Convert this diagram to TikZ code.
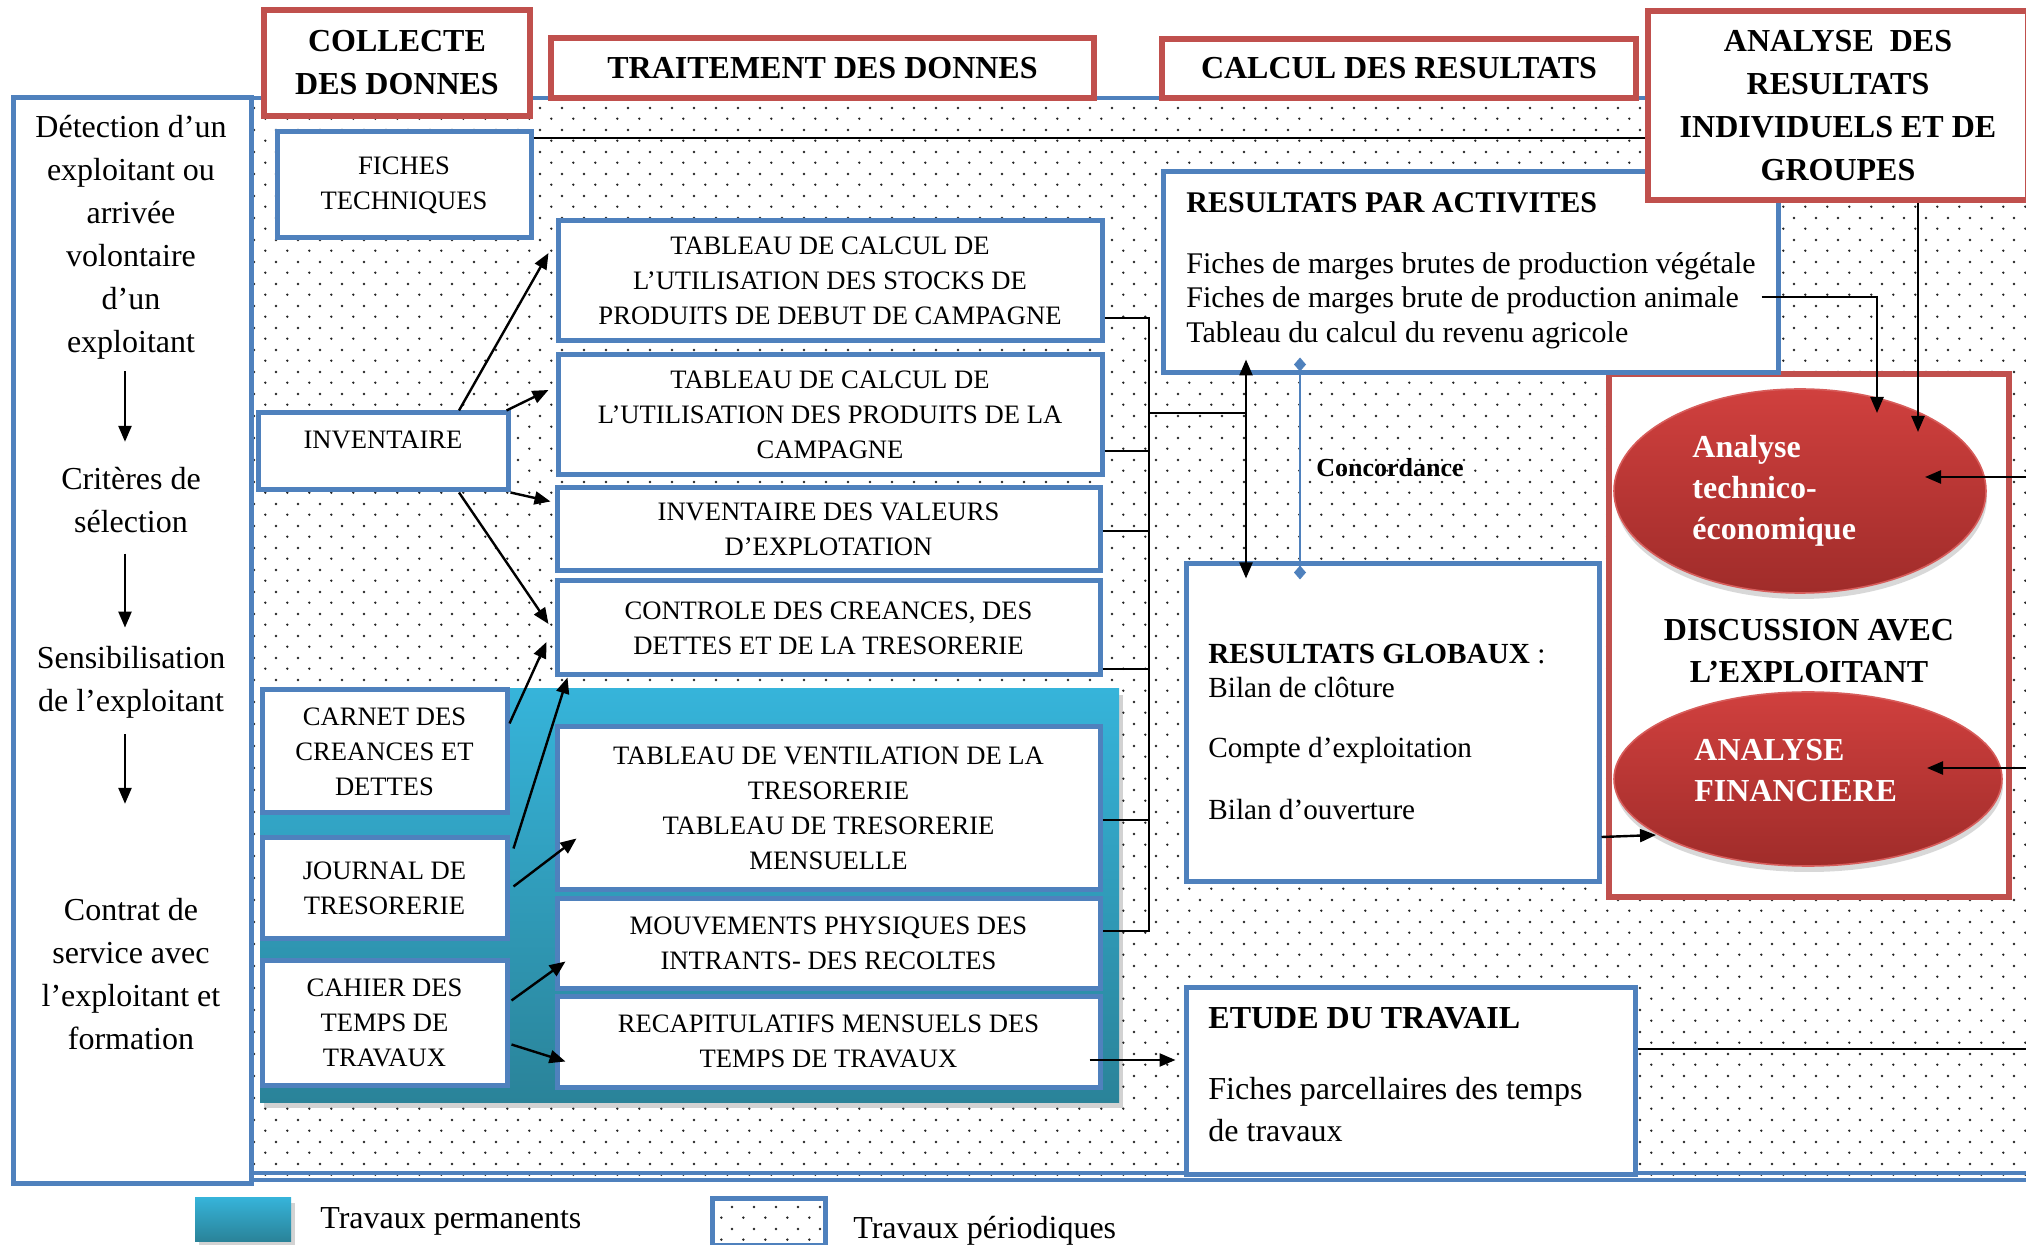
\documentclass[tikz,border=0pt]{standalone}
\usepackage{fontspec}
\setmainfont{Liberation Serif}
\usetikzlibrary{arrows.meta,shapes.geometric,shadows,patterns.meta}
\definecolor{boxblue}{HTML}{4F81BD}
\definecolor{headred}{HTML}{C0504D}
\definecolor{tealtop}{HTML}{36B4DA}
\definecolor{tealbot}{HTML}{2A8399}
\definecolor{ellred}{HTML}{D0403E}
\definecolor{elldark}{HTML}{A02C2A}
\tikzdeclarepattern{
  name=ptdots, type=uncolored,
  bounding box={(0pt,0pt) and (10.85pt,10.85pt)},
  tile size={(10.85pt,10.85pt)},
  code={\fill (2.7pt,2.7pt) circle (0.68pt);
        \fill (8.12pt,8.12pt) circle (0.68pt);}}

\begin{document}
\begin{tikzpicture}[x=0.5pt,y=-0.5pt,
    bluebox/.style={draw=boxblue, line width=2.5pt, fill=white, inner sep=2pt,
      align=center, font=\fontsize{13.3}{17.5}\selectfont},
    redhead/.style={draw=headred, line width=3pt, fill=white, inner sep=2pt,
      align=center, font=\bfseries\fontsize{16}{21.5}\selectfont},
    lefttxt/.style={inner sep=0pt, align=center, font=\fontsize{16}{21.5}\selectfont},
    restxt/.style={inner sep=0pt, align=left, font=\fontsize{15}{17.25}\selectfont},
    elltxt/.style={inner sep=0pt, align=left, text=white, font=\bfseries\fontsize{16}{20.5}\selectfont},
    redell/.style={ellipse, inner sep=0pt, top color=ellred, bottom color=elldark,
      draw=ellred!85!white, line width=0.8pt,
      drop shadow={shadow xshift=0.5pt, shadow yshift=-3pt, opacity=0.3}},
    permzone/.style={top color=tealtop, bottom color=tealbot,
      drop shadow={shadow xshift=2pt, shadow yshift=-3pt, opacity=0.35}},
    arr/.style={-{Triangle[length=8pt,width=6.5pt]}, line width=1.2pt},
    dblarr/.style={{Triangle[length=8pt,width=6.5pt]}-{Triangle[length=8pt,width=6.5pt]}, line width=1.2pt},
    concarr/.style={{Diamond[length=7pt,width=6pt]}-{Diamond[length=7pt,width=6pt]}, boxblue, line width=1pt},
    link/.style={line width=1pt}]
\useasboundingbox (0,0) rectangle (2026,1245);
\clip (0,0) rectangle (2026,1245);

% fond : travaux periodiques
\fill[white] (251,98) rectangle (2040,1180);
\fill[pattern=ptdots, pattern color=black!85] (251,98) rectangle (2040,1180);
\draw[boxblue, line width=2pt] (13,98) -- (2040,98);
\draw[boxblue, line width=2pt] (251,1173) -- (2040,1173);
\draw[boxblue, line width=2pt] (251,1180) -- (2040,1180);

% colonne de gauche
\draw[boxblue, line width=2.5pt, fill=white] (13,98) rectangle (251,1183);
\node[lefttxt] (detect) at (131,237) {Détection d’un\\exploitant ou\\arrivée\\volontaire\\d’un\\exploitant};
\node[lefttxt] (crit) at (131,500.5) {Critères de\\sélection};
\node[lefttxt] (sens) at (131,682) {Sensibilisation\\de l’exploitant};
\node[lefttxt] (contrat) at (131,974) {Contrat de\\service avec\\l’exploitant et\\formation};
\draw[arr] ([xshift=-3pt,yshift=-6pt]detect.south) -- ([xshift=-3pt,yshift=12.75pt]crit.north);
\draw[arr] ([xshift=-3pt,yshift=-10pt]crit.south) -- ([xshift=-3pt,yshift=9pt]sens.north);
\draw[arr] ([xshift=-3pt,yshift=-8pt]sens.south) -- ([xshift=-3pt,yshift=47pt]contrat.north);

% zone des travaux permanents
\path[permzone] (260,689) rectangle (1119,1102);

% en-tetes
\node[redhead, minimum width=133pt, minimum height=53pt] (collecte) at (397,63) {COLLECTE\\DES DONNES};
\node[redhead, minimum width=271.5pt, minimum height=30pt] (traitement) at (822.5,68) {TRAITEMENT DES DONNES};
\node[redhead, minimum width=237pt, minimum height=29.5pt] (calcul) at (1399,68.5) {CALCUL DES RESULTATS};

% collecte
\node[bluebox, minimum width=127pt, minimum height=53pt] (fiches) at (404,185) {FICHES\\TECHNIQUES};
\node[bluebox, minimum width=125pt, minimum height=38.5pt, text depth=12pt] (inv) at (383,451.5) {INVENTAIRE};
\node[bluebox, minimum width=122.5pt, minimum height=61.5pt] (carnet) at (384.5,751.5) {CARNET DES\\CREANCES ET\\DETTES};
\node[bluebox, minimum width=122.5pt, minimum height=50.5pt] (journal) at (384.5,888.5) {JOURNAL DE\\TRESORERIE};
\node[bluebox, minimum width=122.5pt, minimum height=62.5pt] (cahier) at (384.5,1022.5) {CAHIER DES\\TEMPS DE\\TRAVAUX};

% traitement
\node[bluebox, minimum width=272pt, minimum height=60pt] (tab1) at (830,281) {TABLEAU DE CALCUL DE\\L’UTILISATION DES STOCKS DE\\PRODUITS DE DEBUT DE CAMPAGNE};
\node[bluebox, minimum width=272pt, minimum height=60pt] (tab2) at (830,415) {TABLEAU DE CALCUL DE\\L’UTILISATION DES PRODUITS DE LA\\CAMPAGNE};
\node[bluebox, minimum width=271.5pt, minimum height=41.5pt, text depth=0pt] (invval) at (828.5,529.5) {INVENTAIRE DES VALEURS\\D’EXPLOTATION};
\node[bluebox, minimum width=271.5pt, minimum height=47pt] (controle) at (828.5,628) {CONTROLE DES CREANCES, DES\\DETTES ET DE LA TRESORERIE};
\node[bluebox, minimum width=271.5pt, minimum height=81.5pt] (vent) at (828.5,808.5) {TABLEAU DE VENTILATION DE LA\\TRESORERIE\\TABLEAU DE TRESORERIE\\MENSUELLE};
\node[bluebox, minimum width=271.5pt, minimum height=44.5pt] (mouv) at (828.5,943.5) {MOUVEMENTS PHYSIQUES DES\\INTRANTS- DES RECOLTES};
\node[bluebox, minimum width=271.5pt, minimum height=45.5pt] (recap) at (828.5,1041.5) {RECAPITULATIFS MENSUELS DES\\TEMPS DE TRAVAUX};

% analyse et discussion
\draw[headred, line width=3pt, fill=white] (1609,374) rectangle (2009,897);
\node[redell, minimum width=186pt, minimum height=102pt] (ana1) at (1800,491) {};
\node[elltxt, anchor=west] (ana1txt) at (1692,491) {Analyse\\technico-\\économique};
\node[inner sep=0pt, align=center, font=\bfseries\fontsize{16}{21}\selectfont] (discuss) at (1809,651) {DISCUSSION AVEC\\L’EXPLOITANT};
\node[redell, minimum width=194pt, minimum height=87pt] (ana2) at (1808,779) {};
\node[elltxt, anchor=west] (ana2txt) at (1694,771) {ANALYSE\\FINANCIERE};

% calcul des resultats
\node[bluebox, minimum width=307.5pt, minimum height=100.5pt] (resact) at (1470.5,272.5) {};
\node[restxt, anchor=north west] (resacttxt) at (1186,192) {\textbf{RESULTATS PAR ACTIVITES}\\[13.25pt]
  Fiches de marges brutes de production végétale\\
  Fiches de marges brute de production animale\\
  Tableau du calcul du revenu agricole};
\node[redhead, minimum width=190pt, minimum height=94.5pt] (anres) at (1838,105.5) {ANALYSE~ DES\\RESULTATS\\INDIVIDUELS ET DE\\GROUPES};
\node[bluebox, minimum width=206.5pt, minimum height=159pt] (resglob) at (1392.5,723) {};
\node[inner sep=0pt, align=left, anchor=north west, font=\fontsize{14.6}{17}\selectfont] (resglobtxt) at (1208,644)
  {\textbf{RESULTATS GLOBAUX} :\\Bilan de clôture\\[13pt]Compte d’exploitation\\[14pt]Bilan d’ouverture};
\node[bluebox, minimum width=224.5pt, minimum height=93.5pt] (etude) at (1410.5,1080.5) {};
\node[inner sep=0pt, align=left, anchor=north west, font=\fontsize{16}{21}\selectfont] (etudetxt) at (1208,1007)
  {\textbf{ETUDE DU TRAVAIL}\\[14.5pt]Fiches parcellaires des temps\\de travaux};
\node[inner sep=0pt, font=\bfseries\fontsize{13}{15}\selectfont] (concord) at (1390,468) {Concordance};

% liaisons
\coordinate (brtop) at (1149,318);
\coordinate (brbot) at (1149,931);
\coordinate (brmid) at (1149,413);
\coordinate (dmid) at (1246,413);
\coordinate (rin1) at (2030,477);
\coordinate (rin2) at (2030,768);
\coordinate (rout) at (2030,1049);
\draw[link] ([yshift=-18.5pt]tab1.east) -- (brtop) -- (brbot) -- ([yshift=6.25pt]mouv.east);
\draw[link] ([yshift=-18pt]tab2.east) -- (brtop |- 0,451);
\draw[link] ([yshift=-0.75pt]invval.east) -- (brtop |- 0,531);
\draw[link] ([yshift=-20.5pt]controle.east) -- (brtop |- 0,669);
\draw[link] ([yshift=-5.75pt]vent.east) -- (brtop |- 0,820);
\draw[link] (brmid) -- (dmid);
\draw[link] ([yshift=23.5pt]fiches.east) -- ([yshift=-16.25pt]anres.west);
\draw[dblarr] ([xshift=-112.25pt,yshift=8pt]resact.south) -- ([xshift=-73.25pt,yshift=-8.5pt]resglob.north);
\draw[concarr] ([xshift=-85.25pt,yshift=9pt]resact.south) -- ([xshift=-46.25pt,yshift=-9pt]resglob.north);

\draw[arr] ([xshift=38pt]inv.north) -- ([xshift=-3.5pt,yshift=14pt]tab1.west);
\draw[arr] ([xshift=-2pt]inv.north east) -- ([xshift=-3.5pt,yshift=12.5pt]tab2.west);
\draw[arr] (inv.south east) -- ([xshift=-2pt,yshift=14pt]invval.west);
\draw[arr] ([xshift=38pt]inv.south) -- ([xshift=-3pt,yshift=2pt]controle.west);
\draw[arr] ([yshift=14pt]carnet.east) -- ([xshift=-4pt,yshift=-7pt]controle.west);
\draw[arr] ([xshift=2pt,yshift=20pt]journal.east) -- ([xshift=6.5pt]controle.south west);
\draw[arr] ([xshift=2pt,yshift=1pt]journal.east) -- ([xshift=11pt,yshift=-15pt]vent.west);
\draw[arr] ([xshift=1pt,yshift=11pt]cahier.east) -- ([xshift=5.5pt,yshift=-9pt]mouv.west);
\draw[arr] ([xshift=1pt,yshift=-11pt]cahier.east) -- ([xshift=5.5pt,yshift=-10pt]recap.west);
\draw[arr] ([xshift=-6.5pt,yshift=-9.25pt]recap.east) -- ([xshift=-4pt,yshift=10.25pt]etude.west);
\draw[arr] ([xshift=-9.5pt,yshift=-12.25pt]resact.east) -| ([xshift=38.5pt,yshift=39pt]ana1.center);
\draw[arr] ([xshift=40pt]anres.south) -- ([xshift=59pt,yshift=29.5pt]ana1.center);
\draw[arr] (rin1) -- ([xshift=62.5pt,yshift=7pt]ana1.center);
\draw[arr] (rin2) -- ([xshift=59.5pt,yshift=5.5pt]ana2.center);
\draw[arr] ([yshift=-57pt]resglob.east) -- ([xshift=-76pt,yshift=-28pt]ana2.center);
\draw[link] ([yshift=15.75pt]etude.east) -- (rout);

% legende
\node[permzone, minimum width=48pt, minimum height=22pt, inner sep=0pt] (legperm) at (243,1219) {};
\node[anchor=west, inner sep=0pt, font=\fontsize{16}{18}\selectfont] (legpermtxt) at (320,1221) {Travaux permanents};
\node[draw=boxblue, line width=2.5pt, preaction={fill=white}, pattern=ptdots, pattern color=black!85,
  minimum width=56.5pt, minimum height=23.5pt, inner sep=0pt] (legper) at (768.5,1221.5) {};
\node[anchor=west, inner sep=0pt, font=\fontsize{16}{18}\selectfont] (legpertxt) at (853,1231) {Travaux périodiques};
\end{tikzpicture}
\end{document}
